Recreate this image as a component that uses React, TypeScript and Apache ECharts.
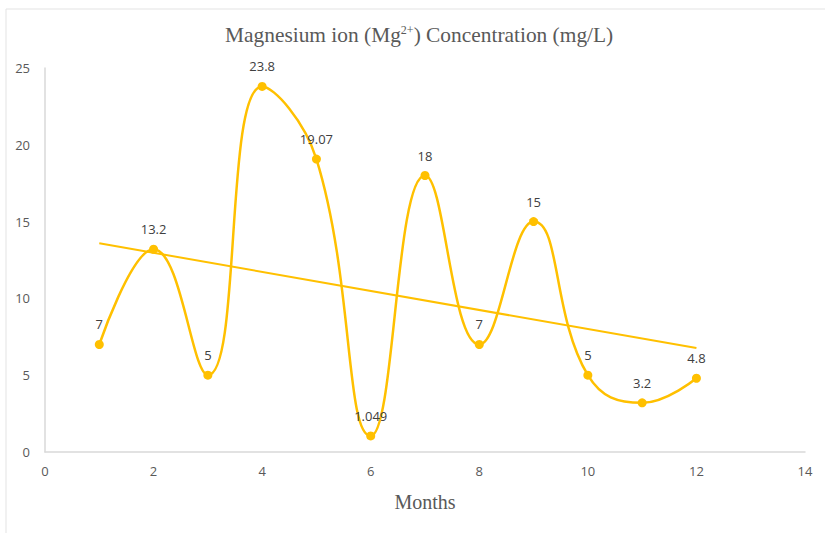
import React, { useEffect, useRef } from "react";
import * as echarts from "echarts";

// Monthly magnesium concentration readings (mg/L)
const months = [1, 2, 3, 4, 5, 6, 7, 8, 9, 10, 11, 12];
const magnesium = [7, 13.2, 5, 23.8, 19.07, 1.049, 18, 7, 15, 5, 3.2, 4.8];

const xTicks = { min: 0, max: 14, interval: 2 };
const yTicks = { min: 0, max: 25, interval: 5 };

const GOLD = "#FFC000";
const TEXT_GREY = "#595959";
const AXIS_GREY = "#d9d9d9";

// Least-squares linear trend across the readings
function linearTrend(xs: number[], ys: number[]) {
  const n = xs.length;
  const mx = xs.reduce((a, b) => a + b, 0) / n;
  const my = ys.reduce((a, b) => a + b, 0) / n;
  let sxy = 0;
  let sxx = 0;
  for (let i = 0; i < n; i++) {
    sxy += (xs[i] - mx) * (ys[i] - my);
    sxx += (xs[i] - mx) * (xs[i] - mx);
  }
  const slope = sxy / sxx;
  const intercept = my - slope * mx;
  const x0 = xs[0];
  const x1 = xs[n - 1];
  return [
    [x0, intercept + slope * x0],
    [x1, intercept + slope * x1],
  ];
}

export default function App() {
  const ref = useRef<HTMLDivElement>(null);

  useEffect(() => {
    if (!ref.current) return;
    const chart = echarts.init(ref.current, null, { renderer: "svg" });
    const points = months.map((m, i) => [m, magnesium[i]]);
    const trend = linearTrend(months, magnesium);

    chart.setOption({
      animation: false,
      backgroundColor: "#ffffff",
      title: {
        text: "{a|Magnesium ion (Mg}{s|2+}{a|) Concentration (mg/L)}",
        left: 220,
        top: 16,
        textStyle: {
          fontWeight: "normal",
          rich: {
            a: {
              fontFamily: "Liberation Serif",
              fontWeight: "normal",
              fontSize: 21.4,
              color: TEXT_GREY,
              lineHeight: 24,
              verticalAlign: "bottom",
            },
            s: {
              fontFamily: "Liberation Serif",
              fontWeight: "normal",
              fontSize: 12,
              color: TEXT_GREY,
              lineHeight: 14,
              verticalAlign: "top",
              padding: [3, 0, 0, 0],
            },
          },
        },
      },
      graphic: [
        {
          type: "rect",
          shape: { x: 6, y: 9, width: 840, height: 560 },
          style: { fill: "none", stroke: "#e3e3e3", lineWidth: 1 },
          silent: true,
        },
      ],
      grid: { left: 45, right: 20, top: 68, bottom: 81, containLabel: false },
      xAxis: {
        type: "value",
        ...xTicks,
        name: "Months",
        nameLocation: "middle",
        nameGap: 40,
        nameTextStyle: {
          fontFamily: "Liberation Serif",
          fontSize: 20,
          color: TEXT_GREY,
        },
        axisLine: { show: true, lineStyle: { color: AXIS_GREY, width: 1.5 } },
        axisTick: { show: false },
        splitLine: { show: false },
        axisLabel: {
          margin: 12,
          color: TEXT_GREY,
          fontFamily: "Open Sans",
          fontSize: 13,
        },
      },
      yAxis: {
        type: "value",
        ...yTicks,
        axisLine: { show: true, lineStyle: { color: AXIS_GREY, width: 1.5 } },
        axisTick: { show: false },
        splitLine: { show: false },
        axisLabel: {
          margin: 15,
          color: TEXT_GREY,
          fontFamily: "Open Sans",
          fontSize: 13,
        },
      },
      series: [
        {
          type: "line",
          name: "Mg2+",
          data: points,
          smooth: 0.45,
          symbol: "circle",
          symbolSize: 9,
          itemStyle: { color: GOLD },
          lineStyle: { color: GOLD, width: 2.5 },
          label: {
            show: true,
            position: "top",
            distance: 9,
            color: "#404040",
            fontFamily: "Open Sans",
            fontSize: 13,
            formatter: (p: any) => String(p.value[1]),
          },
          z: 3,
        },
        {
          type: "line",
          name: "Linear trend",
          data: trend,
          symbol: "none",
          lineStyle: { color: GOLD, width: 2 },
          silent: true,
          z: 2,
        },
      ],
    });

    return () => chart.dispose();
  }, []);

  return (
    <div
      ref={ref}
      style={{ position: "fixed", left: 0, top: 0, width: 825, height: 533 }}
    />
  );
}
